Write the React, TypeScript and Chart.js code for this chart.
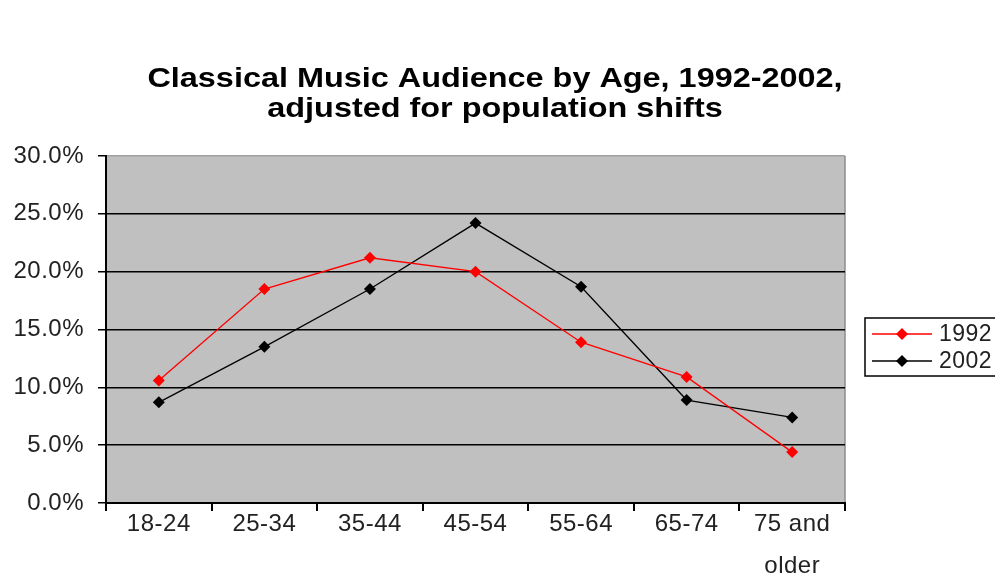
import React, { useEffect, useRef } from "react";
import { Chart, registerables } from "chart.js";

Chart.register(...registerables);

const categories: (string | string[])[] = ["18-24", "25-34", "35-44", "45-54", "55-64", "65-74", ["75 and", "older"]];
const series1992: number[] = [10.6, 18.5, 21.2, 20.0, 13.9, 10.9, 4.4];
const series2002: number[] = [8.7, 13.5, 18.5, 24.2, 18.7, 8.9, 7.4];
const seriesNames: string[] = ["1992", "2002"];
const seriesColors: string[] = ["#ff0000", "#000000"];
const titleLines: string[] = ["Classical Music Audience by Age, 1992-2002,", "adjusted for population shifts"];

const FONT = "'Liberation Sans', Arial, sans-serif";

const decorPlugin = {
  id: "decor",
  beforeDraw(chart: any) {
    const { ctx, chartArea } = chart;
    ctx.save();
    ctx.fillStyle = "#ffffff";
    ctx.fillRect(0, 0, chart.width, chart.height);
    ctx.fillStyle = "#c0c0c0";
    ctx.fillRect(chartArea.left, chartArea.top, chartArea.right - chartArea.left, chartArea.bottom - chartArea.top);
    ctx.strokeStyle = "#8c8c8c";
    ctx.lineWidth = 1.5;
    ctx.beginPath();
    ctx.moveTo(chartArea.right, chartArea.top);
    ctx.lineTo(chartArea.right, chartArea.bottom);
    ctx.stroke();
    ctx.restore();
    ctx.letterSpacing = "0.5px";
  },
  afterDraw(chart: any) {
    const { ctx } = chart;
    ctx.save();
    // title
    ctx.fillStyle = "#000";
    ctx.font = `bold 27px ${FONT}`;
    ctx.textAlign = "center";
    ctx.textBaseline = "middle";
    ctx.letterSpacing = "0px";
    const cx = 495;
    const ys = [80, 110];
    titleLines.forEach((t, i) => {
      ctx.save();
      ctx.translate(cx, ys[i]);
      ctx.scale(1.2, 1);
      ctx.fillText(t, 0, 0);
      ctx.restore();
    });
    // legend
    const bx = 865, by = 318, bh = 58;
    ctx.strokeStyle = "#000";
    ctx.lineWidth = 1.5;
    ctx.strokeRect(bx, by, chart.width - bx + 5, bh);
    ctx.font = `23px ${FONT}`;
    ctx.letterSpacing = "0.5px";
    ctx.textAlign = "left";
    const rows = [by + 16, by + 43];
    seriesNames.forEach((n, i) => {
      const y = rows[i];
      ctx.strokeStyle = seriesColors[i];
      ctx.lineWidth = 1.3;
      ctx.beginPath();
      ctx.moveTo(872, y);
      ctx.lineTo(932, y);
      ctx.stroke();
      ctx.fillStyle = seriesColors[i];
      ctx.beginPath();
      ctx.moveTo(902, y - 6);
      ctx.lineTo(908, y);
      ctx.lineTo(902, y + 6);
      ctx.lineTo(896, y);
      ctx.closePath();
      ctx.fill();
      ctx.fillStyle = "#222";
      ctx.fillText(n, 939, y + 1);
    });
    ctx.restore();
  },
};

export default function App() {
  const ref = useRef<HTMLCanvasElement | null>(null);
  useEffect(() => {
    document.body.style.margin = "0";
    const chart = new Chart(ref.current as HTMLCanvasElement, {
      type: "line",
      data: {
        labels: categories as any,
        datasets: [
          {
            label: seriesNames[0],
            data: series1992,
            borderColor: seriesColors[0],
            backgroundColor: seriesColors[0],
            borderWidth: 1.3,
            pointStyle: "rectRot",
            pointRadius: 6,
            pointBorderWidth: 0,
            tension: 0,
          },
          {
            label: seriesNames[1],
            data: series2002,
            borderColor: seriesColors[1],
            backgroundColor: seriesColors[1],
            borderWidth: 1.3,
            pointStyle: "rectRot",
            pointRadius: 6,
            pointBorderWidth: 0,
            tension: 0,
          },
        ],
      },
      plugins: [decorPlugin],
      options: {
        animation: false,
        responsive: true,
        maintainAspectRatio: false,
        layout: { padding: { left: 0, right: 150, top: 156, bottom: 0 } },
        plugins: { legend: { display: false }, title: { display: false }, tooltip: { enabled: false } },
        scales: {
          x: {
            type: "category",
            offset: true,
            grid: { offset: true, drawOnChartArea: false, drawTicks: true, tickLength: 8, color: "#000", lineWidth: 2 },
            border: { display: true, color: "#000", width: 2 },
            ticks: { color: "#222", font: { family: FONT, size: 24, lineHeight: 1.75 }, padding: -8, maxRotation: 0, autoSkip: false },
            afterFit(scale: any) {
              scale.height = 82;
              scale.paddingLeft = 0;
              scale.paddingRight = 0;
            },
          },
          y: {
            min: 0,
            max: 30,
            ticks: {
              stepSize: 5,
              color: "#222",
              font: { family: FONT, size: 24 },
              padding: 14,
              callback: (v: any) => Number(v).toFixed(1) + "%",
            },
            grid: {
              color: (c: any) => (c.tick && c.tick.value === 30 ? "#a0a0a0" : "#000"),
              tickColor: "#000",
              lineWidth: 1.5,
              tickLength: 8,
              drawTicks: true,
            },
            border: { display: true, color: "#000", width: 2 },
            afterFit(scale: any) {
              scale.width = 106;
              scale.paddingTop = 0;
              scale.paddingBottom = 0;
            },
          },
        },
      },
    });
    return () => chart.destroy();
  }, []);
  return (
    <div style={{ position: "fixed", left: 0, top: 0, width: 995, height: 585, background: "#fff" }}>
      <canvas ref={ref} />
    </div>
  );
}
